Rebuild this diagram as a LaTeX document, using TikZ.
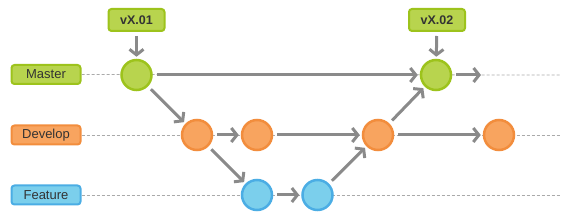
\documentclass[tikz,border=0pt]{standalone}
\usepackage{fontspec}
\setmainfont{Liberation Sans}
\usetikzlibrary{arrows.meta}
\definecolor{gfill}{HTML}{B8D44E}
\definecolor{gline}{HTML}{9DC31C}
\definecolor{ofill}{HTML}{F8A45F}
\definecolor{oline}{HTML}{F28D3D}
\definecolor{bfill}{HTML}{7BCFEC}
\definecolor{bline}{HTML}{4BADE4}
\definecolor{txt}{HTML}{333333}
\definecolor{arr}{HTML}{8A8A8A}
\definecolor{dash}{HTML}{AAAAAA}
\tikzset{
  lbl/.style={draw, line width=2pt, rounded corners=3pt, minimum width=69pt, minimum height=19pt, inner sep=0pt, text=txt, font=\fontsize{13}{13}\selectfont},
  tag/.style={draw, line width=2pt, rounded corners=3pt, minimum width=56pt, minimum height=22pt, inner sep=0pt, text=txt, font=\bfseries\fontsize{12.5}{13}\selectfont},
  commit/.style={circle, draw, line width=2.5pt, minimum size=30pt, inner sep=0pt},
  gr/.style={fill=gfill, draw=gline},
  og/.style={fill=ofill, draw=oline},
  bl/.style={fill=bfill, draw=bline},
  flow/.style={draw=arr, line width=3pt, -{Straight Barb[length=5.5pt,width=14pt,line width=3pt]}, shorten <=4pt, shorten >=2pt},
  guide/.style={draw=dash, line width=0.8pt, dash pattern=on 3pt off 2pt}
}
\begin{document}
\begin{tikzpicture}[x=1pt,y=-1pt]
\useasboundingbox (0,0) rectangle (576,221);
% labels
\node[lbl, gr] (lm) at (46,74.5) {Master};
\node[lbl, og] (ld) at (46,135) {Develop};
\node[lbl, bl] (lf) at (46,195) {Feature};
% guide line ends
\coordinate (em) at (560,75);
\coordinate (ed) at (560,135);
\coordinate (ef) at (560,195);
\draw[guide] (lm.east) -- (em);
\draw[guide] (ld.east) -- (ed);
\draw[guide] (lf.east) -- (ef);
% tags
\node[tag, gr] (t1) at (136.5,20) {vX.01};
\node[tag, gr] (t2) at (437,20) {vX.02};
% commits
\node[commit, gr] (m1) at (136.5,75) {};
\node[commit, gr] (m2) at (436,75) {};
\node[commit, og] (d1) at (197,135) {};
\node[commit, og] (d2) at (257,135) {};
\node[commit, og] (d3) at (378,135) {};
\node[commit, og] (d4) at (499,135) {};
\node[commit, bl] (f1) at (257,195) {};
\node[commit, bl] (f2) at (317.5,195) {};
\coordinate (mo) at (481,75);
% arrows
\draw[flow] (t1) -- (m1);
\draw[flow] (t2) -- (m2);
\draw[flow] (m1) -- (m2);
\draw[flow] (m1) -- (d1);
\draw[flow] (d1) -- (d2);
\draw[flow] (d2) -- (d3);
\draw[flow] (d1) -- (f1);
\draw[flow] (f1) -- (f2);
\draw[flow] (f2) -- (d3);
\draw[flow] (d3) -- (m2);
\draw[flow] (d3) -- (d4);
\draw[flow, shorten >=0pt] (m2) -- (mo);
\end{tikzpicture}
\end{document}
